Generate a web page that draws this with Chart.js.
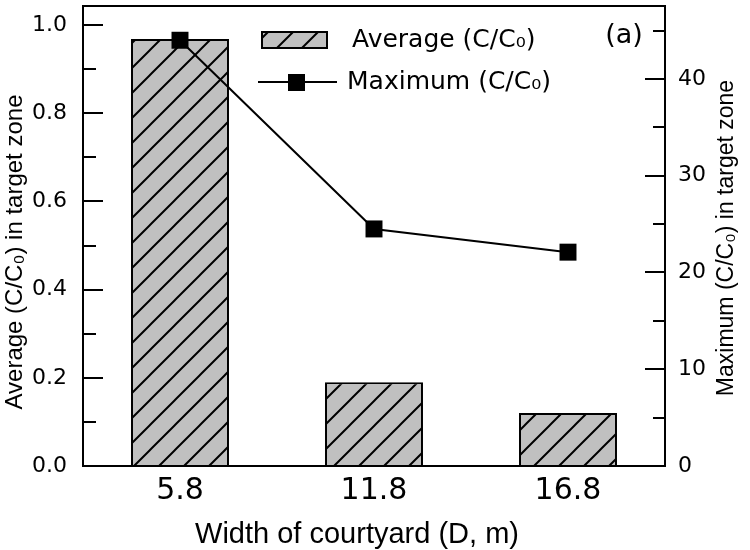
<!DOCTYPE html>
<html>
<head>
<meta charset="utf-8">
<script src="https://cdn.jsdelivr.net/npm/chart.js@4.4.0/dist/chart.umd.min.js"></script>
<style>
  html, body { margin: 0; padding: 0; background: #fff; }
  #wrap { width: 750px; height: 550px; }
</style>
</head>
<body>
<div id="wrap"><canvas id="myChart"></canvas></div>
<script>
const widths = ['5.8', '11.8', '16.8'];
const averageC = [0.968, 0.19, 0.12];
const maximumC = [44.0, 24.5, 22.1];
const leftTicks = [0, 0.2, 0.4, 0.6, 0.8, 1.0];
const leftMinor = [0.1, 0.3, 0.5, 0.7, 0.9];
const rightTicks = [0, 10, 20, 30, 40];
const rightMinor = [5, 15, 25, 35, 45];

const FONT = 'DejaVu Sans';
const TITLE_FONT = 'Liberation Sans';
const canvas = document.getElementById('myChart');
const ctx = canvas.getContext('2d');

// diagonal hatch for the bars (gray with black "/" lines)
function makeHatch() {
  const s = 25;
  const c = document.createElement('canvas');
  c.width = s; c.height = s;
  const g = c.getContext('2d');
  g.fillStyle = '#c0c0c0';
  g.fillRect(0, 0, s, s);
  g.strokeStyle = '#000';
  g.lineWidth = 2;
  g.beginPath();
  g.moveTo(-3, s + 3); g.lineTo(s + 3, -3);
  g.moveTo(-3, 3); g.lineTo(3, -3);
  g.moveTo(s - 3, s + 3); g.lineTo(s + 3, s - 3);
  g.stroke();
  return ctx.createPattern(c, 'repeat');
}
const hatch = makeHatch();

// frame, inward ticks, legend, titles, panel label
const decor = {
  id: 'decor',
  afterDraw(chart) {
    const { ctx, chartArea: a, scales } = chart;
    ctx.save();
    ctx.strokeStyle = '#000';
    ctx.lineWidth = 2;
    ctx.strokeRect(a.left, a.top, a.right - a.left, a.bottom - a.top);

    function ticks(scale, vals, len, side) {
      vals.forEach(v => {
        const y = Math.round(scale.getPixelForValue(v));
        ctx.beginPath();
        if (side === 'left') { ctx.moveTo(a.left, y); ctx.lineTo(a.left + len, y); }
        else { ctx.moveTo(a.right, y); ctx.lineTo(a.right - len, y); }
        ctx.stroke();
      });
    }
    ticks(scales.y, leftTicks, 20, 'left');
    ticks(scales.y, leftMinor, 13, 'left');
    ticks(scales.y1, rightTicks, 20, 'right');
    ticks(scales.y1, rightMinor, 12, 'right');

    // legend
    ctx.fillStyle = hatch;
    ctx.fillRect(262, 32, 65, 16);
    ctx.strokeRect(262, 32, 65, 16);
    ctx.beginPath();
    ctx.moveTo(258, 82); ctx.lineTo(337, 82);
    ctx.stroke();
    ctx.fillStyle = '#000';
    ctx.fillRect(288, 74, 17, 17);
    ctx.font = '25px "' + FONT + '"';
    ctx.textAlign = 'left';
    ctx.textBaseline = 'middle';
    ctx.fillText('Average (C/C\u2080)', 352, 40);
    ctx.fillText('Maximum (C/C\u2080)', 347, 82);

    // panel label
    ctx.font = '27px "' + FONT + '"';
    ctx.textAlign = 'center';
    ctx.fillText('(a)', 624, 36);

    // x axis title
    ctx.font = '29px "' + TITLE_FONT + '"';
    ctx.textBaseline = 'alphabetic';
    ctx.fillText('Width of courtyard (D, m)', 357, 543);

    // y axis titles, both reading bottom to top
    ctx.save();
    ctx.translate(22, 252);
    ctx.rotate(-Math.PI / 2);
    ctx.font = '24px "' + TITLE_FONT + '"';
    ctx.fillText('Average (C/C\u2080) in target zone', 0, 0);
    ctx.restore();

    ctx.translate(733, 238);
    ctx.rotate(-Math.PI / 2);
    ctx.font = '23px "' + TITLE_FONT + '"';
    ctx.fillText('Maximum (C/C\u2080) in target zone', 0, 0);
    ctx.restore();
  }
};

new Chart(canvas, {
  data: {
    labels: widths,
    datasets: [
      {
        type: 'line',
        label: 'Maximum (C/C\u2080)',
        data: maximumC,
        yAxisID: 'y1',
        borderColor: '#000',
        borderWidth: 2,
        pointStyle: 'rect',
        pointRadius: 12,
        pointBackgroundColor: '#000',
        pointBorderWidth: 0,
        order: 0
      },
      {
        type: 'bar',
        label: 'Average (C/C\u2080)',
        data: averageC,
        yAxisID: 'y',
        backgroundColor: hatch,
        borderColor: '#000',
        borderWidth: 2,
        barPercentage: 0.505,
        categoryPercentage: 1,
        order: 1
      }
    ]
  },
  options: {
    responsive: true,
    maintainAspectRatio: false,
    animation: false,
    layout: { autoPadding: false, padding: { top: 6, left: 0, right: 0, bottom: 0 } },
    plugins: { legend: { display: false }, tooltip: { enabled: false } },
    scales: {
      x: {
        grid: { display: false, drawTicks: false },
        border: { display: false },
        ticks: { color: '#000', padding: 7, font: { family: FONT, size: 30 } },
        afterFit(s) { s.height = 84; s.paddingLeft = 0; s.paddingRight = 0; }
      },
      y: {
        position: 'left',
        min: 0,
        max: 1.0431,
        grid: { display: false, drawTicks: false },
        border: { display: false },
        afterBuildTicks(s) { s.ticks = leftTicks.map(v => ({ value: v })); },
        ticks: { color: '#000', padding: 16, font: { family: FONT, size: 22, lineHeight: 0.5 }, callback: v => v.toFixed(1) },
        afterFit(s) { s.width = 83; s.paddingTop = 0; s.paddingBottom = 0; }
      },
      y1: {
        position: 'right',
        min: 0,
        max: 47.54,
        grid: { display: false, drawTicks: false },
        border: { display: false },
        afterBuildTicks(s) { s.ticks = rightTicks.map(v => ({ value: v })); },
        ticks: { color: '#000', padding: 13, font: { family: FONT, size: 22, lineHeight: 0.5 } },
        afterFit(s) { s.width = 85; s.paddingTop = 0; s.paddingBottom = 0; }
      }
    }
  },
  plugins: [decor]
});
</script>
</body>
</html>
